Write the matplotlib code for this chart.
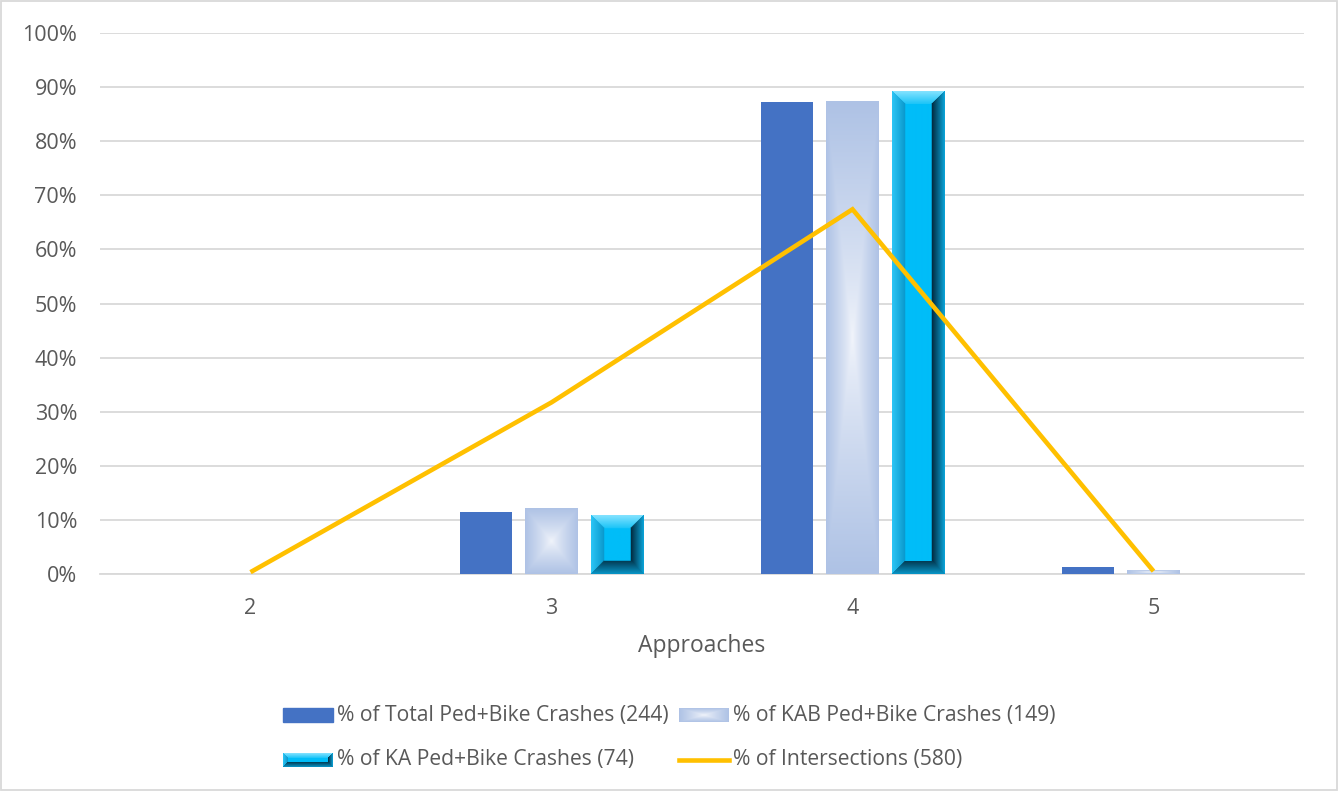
import numpy as np
import matplotlib
matplotlib.use("Agg")
import matplotlib.pyplot as plt
from matplotlib.patches import Rectangle
from matplotlib.lines import Line2D
from matplotlib.colors import to_rgb

# ---- data -------------------------------------------------------------
approaches = ["2", "3", "4", "5"]
pct_total = [0.0, 11.48, 87.30, 1.23]      # % of Total Ped+Bike Crashes (244)
pct_kab = [0.0, 12.08, 87.25, 0.67]        # % of KAB Ped+Bike Crashes (149)
pct_ka = [0.0, 10.81, 89.19, 0.0]          # % of KA Ped+Bike Crashes (74)
pct_int = [0.34, 31.72, 67.41, 0.52]       # % of Intersections (580)
series_labels = [
    "% of Total Ped+Bike Crashes (244)",
    "% of KAB Ped+Bike Crashes (149)",
    "% of KA Ped+Bike Crashes (74)",
    "% of Intersections (580)",
]

W, H, DPI = 1339, 792, 100
FONT = "Open Sans"
TXT = "#595959"
GRID = "#d9d9d9"
C_TOTAL = "#4472c4"
C_LINE = "#ffc000"

plt.rcParams["font.family"] = [FONT, "DejaVu Sans"]

fig = plt.figure(figsize=(W / DPI, H / DPI), dpi=DPI)


def fx(px):
    return px / W


def fy(py):
    return 1 - py / H


ax = fig.add_axes([fx(100), fy(574), fx(1304) - fx(100), fy(33) - fy(574)])
ax.set_xlim(-0.5, 3.5)
ax.set_ylim(0, 100)

ax_wpx = 1304 - 100
ax_hpx = 574 - 33


# ---- fill textures ---------------------------------------------------
def lerp(c0, c1, t):
    c0 = np.array(to_rgb(c0))
    c1 = np.array(to_rgb(c1))
    return c0[None, None, :] * (1 - t[..., None]) + c1[None, None, :] * t[..., None]


def box_gradient(wpx, hpx):
    # light centre fading to the edge colour along a rectangular path
    xs = (np.arange(wpx) + 0.5) / wpx * 2 - 1
    ys = (np.arange(hpx) + 0.5) / hpx * 2 - 1
    X, Y = np.meshgrid(xs, ys)
    d = np.maximum(np.abs(X), np.abs(Y))
    return lerp("#f2f5fb", "#aec2e5", np.clip(d, 0, 1) ** 0.8)


def bevel(wpx, hpx, bw=13):
    xs = np.arange(wpx) + 0.5
    ys = np.arange(hpx) + 0.5
    X, Y = np.meshgrid(xs, ys)
    dl, dr = X, wpx - X
    dt, db = Y, hpx - Y
    bw = min(bw, wpx / 2.2, hpx / 2.2)
    img = np.zeros((hpx, wpx, 3))
    img[:] = to_rgb("#00bdf8")
    dmin = np.minimum(np.minimum(dl, dr), np.minimum(dt, db))
    edges = [
        (dt, "#86e3ff", "#1ac4f8"),
        (dl, "#2cc6f6", "#0a98cc"),
        (dr, "#0aa6dc", "#02283c"),
        (db, "#0896c8", "#033a52"),
    ]
    for d, c_out, c_in in edges:
        m = (d == dmin) & (dmin < bw)
        t = np.clip(d / bw, 0, 1)
        g = lerp(c_out, c_in, t)
        img[m] = g[m]
    return img


def paint(target_ax, x0, y0, w, h, maker, wpx, hpx, z):
    wpx = max(int(round(wpx)), 1)
    hpx = max(int(round(hpx)), 1)
    img = maker(wpx, hpx)
    target_ax.imshow(img, extent=(x0, x0 + w, y0, y0 + h), origin="upper",
                     aspect="auto", interpolation="bilinear", zorder=z)


# ---- bars --------------------------------------------------------------
x = np.arange(len(approaches))
bw = 0.173
off = 0.219

b_total = ax.bar(x - off, pct_total, bw, color=C_TOTAL, zorder=3)
b_kab = ax.bar(x, pct_kab, bw, color="#b4c7e7", zorder=3)
b_ka = ax.bar(x + off, pct_ka, bw, color="#00b0f0", zorder=3)

for bar in b_kab:
    h = bar.get_height()
    if h <= 0:
        continue
    wpx = bar.get_width() / 4.0 * ax_wpx
    hpx = h / 100.0 * ax_hpx
    paint(ax, bar.get_x(), 0, bar.get_width(), h, box_gradient, wpx, hpx, 3.5)

for bar in b_ka:
    h = bar.get_height()
    if h <= 0:
        continue
    wpx = bar.get_width() / 4.0 * ax_wpx
    hpx = h / 100.0 * ax_hpx
    paint(ax, bar.get_x(), 0, bar.get_width(), h, bevel, wpx, hpx, 3.5)

ax.set_xlim(-0.5, 3.5)
ax.set_ylim(0, 100)

# ---- line --------------------------------------------------------------
ax.plot(x, pct_int, color=C_LINE, lw=3.3, solid_joinstyle="miter",
        solid_capstyle="butt", zorder=5)

# ---- axes styling ------------------------------------------------------
ax.set_yticks(np.arange(0, 101, 10))
ax.set_yticklabels([f"{v}%" for v in range(0, 101, 10)])
ax.set_xticks(x)
ax.set_xticklabels(approaches)
ax.tick_params(axis="both", length=0, labelsize=15.5, colors=TXT)
ax.tick_params(axis="y", pad=16.5)
ax.tick_params(axis="x", pad=17)
ax.yaxis.grid(True, color=GRID, lw=1.3, zorder=0)
ax.set_axisbelow(True)
for s in ["left", "right", "top"]:
    ax.spines[s].set_visible(False)
ax.spines["bottom"].set_color(GRID)
ax.spines["bottom"].set_linewidth(1.3)
ax.spines["bottom"].set_zorder(2)
ax.set_xlabel("Approaches", fontsize=16.5, color=TXT, labelpad=11)

# ---- chart border --------------------------------------------------------
fig.patches.append(Rectangle((fx(1), fy(790)), fx(1336), fy(1) - fy(790),
                             transform=fig.transFigure, fill=False,
                             edgecolor=GRID, lw=1.3))

# ---- legend --------------------------------------------------------------
lax = fig.add_axes([0, 0, 1, 1], zorder=10)
lax.set_xlim(0, W)
lax.set_ylim(H, 0)
lax.axis("off")

hw, hh = 50, 14
rows = [715, 760]
cols = [283, 679]
entries = [(cols[0], rows[0]), (cols[1], rows[0]), (cols[0], rows[1]), (cols[1], rows[1])]

(ex, ey) = entries[0]
lax.add_patch(Rectangle((ex, ey - hh / 2), hw, hh, color=C_TOTAL))
(ex, ey) = entries[1]
lax.imshow(box_gradient(hw, hh), extent=(ex, ex + hw, ey + hh / 2, ey - hh / 2),
           origin="upper", aspect="auto", interpolation="bilinear")
(ex, ey) = entries[2]
lax.imshow(bevel(hw, hh, bw=5), extent=(ex, ex + hw, ey + hh / 2, ey - hh / 2),
           origin="upper", aspect="auto", interpolation="bilinear")
(ex, ey) = entries[3]
lax.add_line(Line2D([ex, ex + hw], [ey, ey], color=C_LINE, lw=3.3))
lax.set_xlim(0, W)
lax.set_ylim(H, 0)

for (ex, ey), lab in zip(entries, series_labels):
    lax.text(ex + hw + 4, ey, lab, fontsize=15.2, color=TXT, va="center", ha="left")

fig.savefig("out.png", dpi=DPI)
